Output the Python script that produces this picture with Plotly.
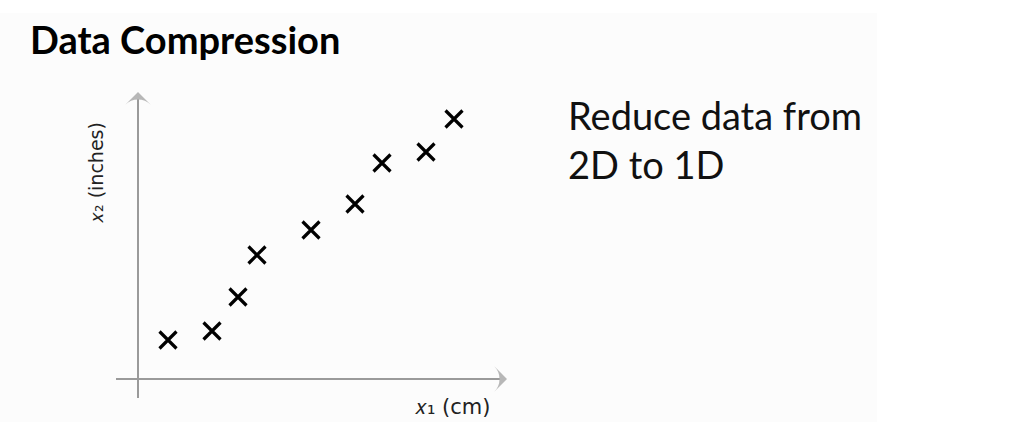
import plotly.graph_objects as go

# data values (x1 in cm-ish units, x2 in inches-ish units)
x1_values = [3.0, 7.4, 10.0, 11.9, 17.3, 21.7, 24.4, 28.8, 31.6]
x2_values = [3.9, 4.8, 8.2, 12.4, 14.9, 17.5, 21.6, 22.7, 26.0]

title_text = "Data Compression"
side_text = "Reduce data from<br>2D to 1D"
x_label = "𝑥₁ (cm)"
y_label = "𝑥₂ (inches)"

# axis extents (data units)
x_axis_span = [-2.2, 36.9]
y_axis_span = [-1.9, 28.7]

fig = go.Figure()

# faint slide background
fig.add_shape(type="rect", xref="paper", yref="paper", x0=0, x1=877/1013, y0=(435-422)/435, y1=(435-13)/435,
              fillcolor="#fcfcfc", line=dict(width=0), layer="below")

axis_color = "#9a9a9a"
for xs, ys in [(x_axis_span, [0, 0]), ([0, 0], y_axis_span)]:
    fig.add_trace(go.Scatter(
        x=xs, y=ys, mode="lines+markers",
        line=dict(color=axis_color, width=2),
        marker=dict(symbol=["circle", "arrow-wide"], size=[0, 18], color=axis_color,
                    angleref="previous", line=dict(width=0)),
        showlegend=False, hoverinfo="skip"))

fig.add_trace(go.Scatter(
    x=x1_values, y=x2_values, mode="markers",
    marker=dict(symbol="x-thin", size=17, color="black",
                line=dict(color="black", width=3.2)),
    showlegend=False, hoverinfo="skip"))

# axis labels
fig.add_annotation(xref="paper", yref="paper", x=452/1013, y=1-407/435, showarrow=False,
                   xanchor="center", yanchor="middle", text=x_label,
                   font=dict(family="DejaVu Sans", size=21, color="#222"))
fig.add_annotation(xref="paper", yref="paper", x=96/1013, y=1-173/435, showarrow=False, textangle=-90,
                   xanchor="center", yanchor="middle", text=y_label,
                   font=dict(family="DejaVu Sans", size=19, color="#222"))

# title
fig.add_annotation(xref="paper", yref="paper", x=28/1013, y=1-39/435, xanchor="left", yanchor="middle",
                   showarrow=False,
                   text="<b>" + title_text + "</b>", font=dict(family="Lato", size=38, color="black"))
# side text
fig.add_annotation(xref="paper", yref="paper", x=566/1013, y=1-139/435, xanchor="left", yanchor="middle",
                   align="left", showarrow=False, text=side_text,
                   font=dict(family="Lato", size=38, color="#111"))

fig.update_layout(
    width=1013, height=435, margin=dict(l=0, r=0, t=0, b=0),
    paper_bgcolor="white", plot_bgcolor="rgba(0,0,0,0)",
    xaxis=dict(range=[-13.8, 87.5], visible=False, fixedrange=True),
    yaxis=dict(range=[-5.6, 37.9], visible=False, fixedrange=True),
)

fig.write_html("out.html", config={"displayModeBar": False},
               post_script="document.body.style.margin='0';document.body.style.overflow='hidden';")
